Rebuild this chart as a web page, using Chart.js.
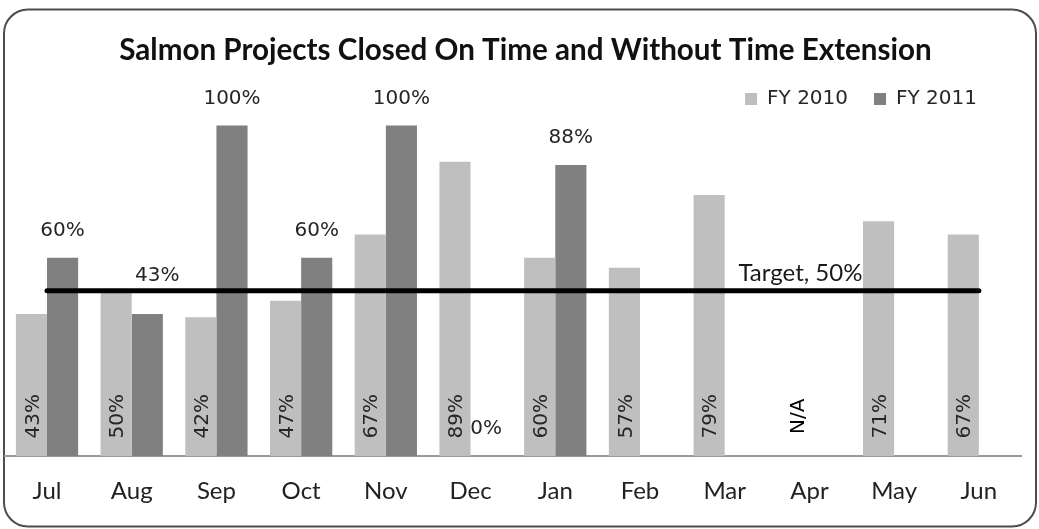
<!DOCTYPE html>
<html>
<head>
<meta charset="utf-8">
<script src="https://cdn.jsdelivr.net/npm/chart.js@4"></script>
<style>
html,body{margin:0;padding:0;background:#fff;}
#wrap{position:relative;width:1039px;height:529px;}
</style>
</head>
<body>
<div id="wrap"><canvas id="c"></canvas></div>
<script>
// ---- data ----
const months = ['Jul','Aug','Sep','Oct','Nov','Dec','Jan','Feb','Mar','Apr','May','Jun'];
const fy2010 = [43, 50, 42, 47, 67, 89, 60, 57, 79, null, 71, 67];
const fy2011 = [60, 43, 100, 60, 100, 0, 88, null, null, null, null, null];
const targetLine = [50, 50, 50, 50, 50, 50, 50, 50, 50, 50, 50, 50];
const seriesNames = ['FY 2010', 'FY 2011', 'Target'];
const targetText = 'Target, 50%';
const missingText = 'N/A';
const chartTitle = 'Salmon Projects Closed On Time and Without Time Extension';

const COL2010 = '#bfbfbf';
const COL2011 = '#808080';
const LABEL_FONT = '20px "DejaVu Sans"';
const CAL_FONT = '"Lato", "Liberation Sans", sans-serif';

const framePlugin = {
  id: 'frame',
  beforeDraw(chart) {
    const ctx = chart.ctx;
    ctx.save();
    ctx.fillStyle = '#ffffff';
    ctx.fillRect(0, 0, chart.width, chart.height);
    ctx.beginPath();
    ctx.roundRect(4, 9.5, 1032, 517, 24);
    ctx.lineWidth = 2;
    ctx.strokeStyle = '#4d4d4d';
    ctx.stroke();
    // title
    ctx.font = 'bold 29.6px ' + CAL_FONT;
    ctx.fillStyle = '#111111';
    ctx.textAlign = 'center';
    ctx.textBaseline = 'middle';
    ctx.fillText(chartTitle, 525.5, 50);
    ctx.restore();
  }
};

const valueLabelPlugin = {
  id: 'valueLabels',
  afterDatasetsDraw(chart, args, opts) {
    const ctx = chart.ctx;
    const x = chart.scales.x, y = chart.scales.y;
    const base = y.getPixelForValue(0);
    const m0 = chart.getDatasetMeta(0), m1 = chart.getDatasetMeta(1), m2 = chart.getDatasetMeta(2);
    const bw = m0.data[0].width;
    ctx.save();
    ctx.font = LABEL_FONT;
    ctx.textAlign = 'center';
    ctx.textBaseline = 'middle';
    // FY 2010: rotated labels inside base
    fy2010.forEach((v, i) => {
      const cx = x.getPixelForValue(i) - bw / 2 + 2;
      const txt = v === null ? missingText : v + '%';
      ctx.save();
      ctx.translate(cx + (v === null ? 3 : 0), base - 40);
      ctx.rotate(-Math.PI / 2);
      ctx.fillStyle = v === null ? '#000000' : '#262626';
      ctx.fillText(txt, 0, 0);
      ctx.restore();
    });
    // FY 2011: labels above bars
    fy2011.forEach((v, i) => {
      if (v === null) return;
      const el = m1.data[i];
      const nudge = (opts.nudge && opts.nudge[i]) || {dx: 0, dy: 0};
      ctx.fillStyle = '#262626';
      ctx.fillText(v + '%', el.x + nudge.dx, el.y - 27 + nudge.dy);
    });
    // Target label
    const p = m2.data[opts.targetIndex];
    ctx.font = '24px ' + CAL_FONT;
    ctx.fillStyle = '#1a1a1a';
    ctx.fillText(targetText, p.x - 9, p.y - 18);
    ctx.restore();
  }
};

const legendPlugin = {
  id: 'customLegend',
  afterDraw(chart) {
    const ctx = chart.ctx;
    ctx.save();
    ctx.font = LABEL_FONT;
    ctx.textBaseline = 'middle';
    ctx.textAlign = 'left';
    const items = [{t: seriesNames[0], c: COL2010}, {t: seriesNames[1], c: COL2011}];
    const box = 12, gap = 10, spacing = 26, right = 977, cy = 99;
    let total = 0;
    items.forEach((it, k) => { it.w = ctx.measureText(it.t).width; total += box + gap + it.w + (k ? spacing : 0); });
    let xx = right - total;
    items.forEach((it) => {
      ctx.fillStyle = it.c;
      ctx.fillRect(xx, cy - box / 2, box, box);
      ctx.fillStyle = '#262626';
      ctx.fillText(it.t, xx + box + gap, cy);
      xx += box + gap + it.w + spacing;
    });
    ctx.restore();
  }
};

new Chart(document.getElementById('c'), {
  data: {
    labels: months,
    datasets: [
      { type: 'bar', label: seriesNames[0], data: fy2010, backgroundColor: COL2010, order: 2,
        categoryPercentage: 0.735, barPercentage: 1.0 },
      { type: 'bar', label: seriesNames[1], data: fy2011, backgroundColor: COL2011, order: 2,
        categoryPercentage: 0.735, barPercentage: 1.0 },
      { type: 'line', label: seriesNames[2], data: targetLine, borderColor: '#000000', borderWidth: 5,
        borderCapStyle: 'round', pointRadius: 0, fill: false, order: 1 }
    ]
  },
  options: {
    responsive: true,
    maintainAspectRatio: false,
    animation: false,
    layout: { padding: { left: 4.65, right: 17.8, top: 75.8, bottom: 2 } },
    scales: {
      x: {
        grid: { display: false, drawTicks: false },
        border: { display: true, color: '#9a9a9a', width: 2 },
        ticks: { color: '#222222', font: { family: CAL_FONT, size: 24 }, padding: 21 }
      },
      y: { display: false, min: 0, max: 115 }
    },
    plugins: {
      legend: { display: false },
      tooltip: { enabled: false },
      title: { display: false },
      valueLabels: { targetIndex: 9, nudge: { 1: { dx: 10, dy: -11 } } }
    }
  },
  plugins: [framePlugin, valueLabelPlugin, legendPlugin]
});
</script>
</body>
</html>
